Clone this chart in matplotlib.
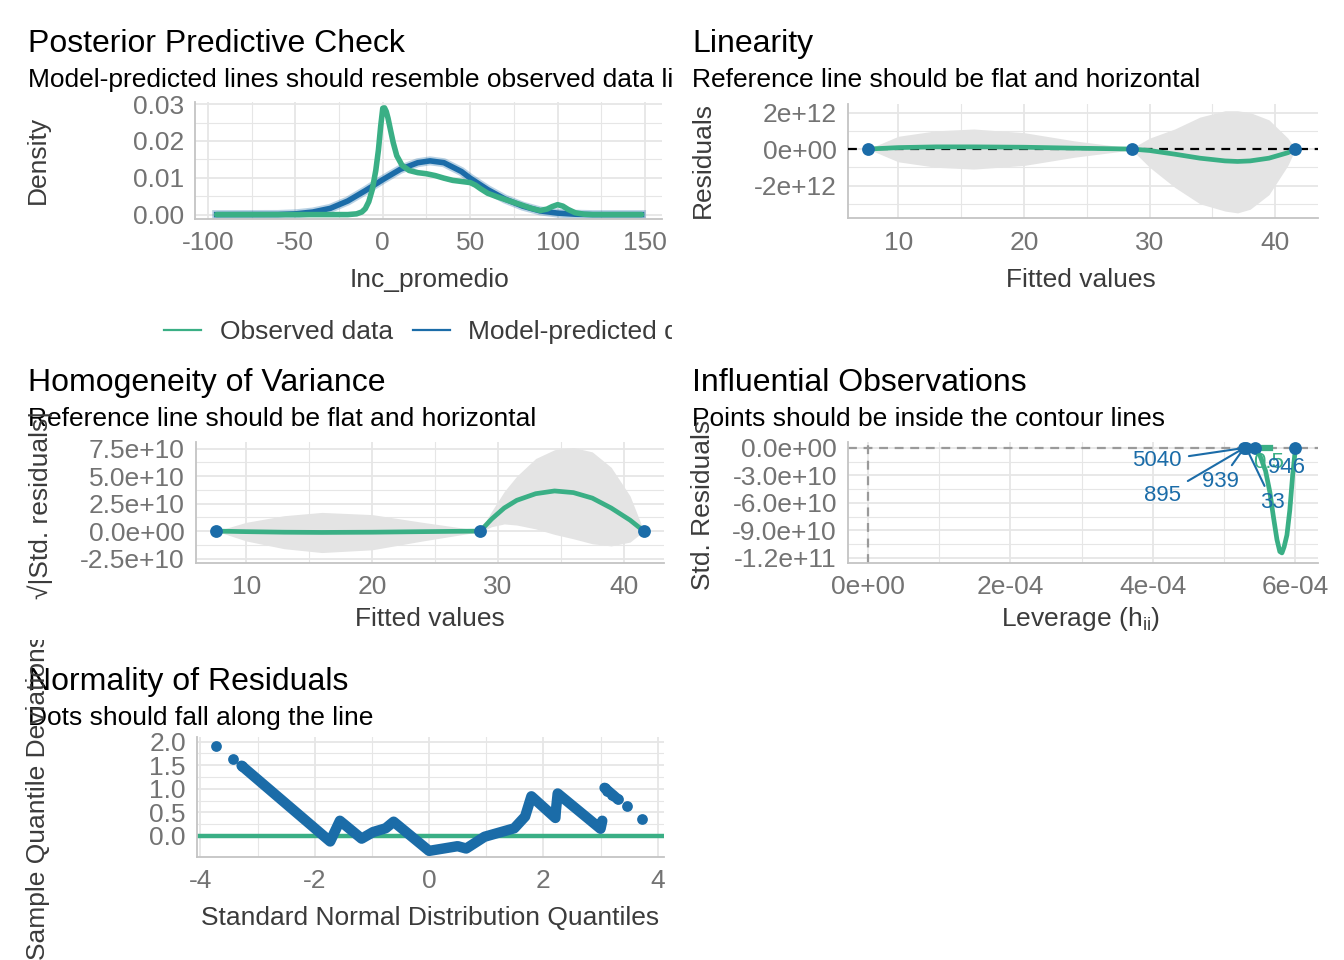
import matplotlib
matplotlib.use("Agg")
import matplotlib.pyplot as plt
from matplotlib.lines import Line2D
from matplotlib.transforms import Bbox, TransformedBbox

plt.rcParams['font.family'] = ['Liberation Sans', 'DejaVu Sans']
plt.rcParams['mathtext.fontset'] = 'custom'
plt.rcParams['mathtext.rm'] = 'Liberation Sans'
plt.rcParams['mathtext.it'] = 'Liberation Sans:italic'

W, H = 1344, 960
GREEN = '#3aaf85'
BLUE = '#1b6ca8'
TICK_C = '#737373'
LAB_C = '#3b3b3b'
GRID_C = '#e6e6e6'
RIB_C = '#e4e4e4'

# ---- Posterior predictive check (density)
obs_x = [-95, -40, -20, -15, -12, -10, -8, -6, -4, -2.5, -1.2, 0, 1, 2, 3, 4.5, 6, 8, 11, 15, 20, 25,
         30, 35, 40, 45, 50, 53, 56, 60, 65, 70, 75, 80, 85, 90, 94, 97, 100, 103, 106, 110, 115, 120, 148]
obs_y = [0, 0, 0, 0.0002, 0.0007, 0.0016, 0.0035, 0.0068, 0.0120, 0.0175, 0.0240, 0.0289, 0.0290, 0.0280,
         0.0262, 0.0228, 0.0195, 0.0160, 0.0134, 0.0120, 0.0114, 0.0111, 0.0106, 0.0099, 0.0093, 0.0090,
         0.0087, 0.0080, 0.0070, 0.0058, 0.0049, 0.0041, 0.0033, 0.0025, 0.0017, 0.0011, 0.0015, 0.0022,
         0.0027, 0.0023, 0.0014, 0.0005, 0.0001, 0, 0]
pred_x = [-95, -60, -50, -40, -30, -20, -10, 0, 10, 20, 27, 35, 45, 50, 60, 70, 80, 90, 100, 110, 120, 148]
pred_y = [0, 0.00003, 0.0002, 0.0007, 0.0017, 0.0037, 0.0065, 0.0095, 0.0123, 0.0141, 0.0146, 0.0141,
          0.0117, 0.0099, 0.0068, 0.0042, 0.0023, 0.0010, 0.0004, 0.0001, 0, 0]

# ---- Linearity
lin_fit = [7.6, 28.6, 41.6]
lin_res = [0, 0, 0]
lin_sx = [7.6, 10, 13, 16, 20, 24, 28.6, 30, 32, 34, 36, 37, 38, 39.5, 41, 41.6]
lin_sy = [0, 0.08e12, 0.12e12, 0.12e12, 0.10e12, 0.05e12, 0, -0.08e12, -0.28e12, -0.50e12, -0.65e12,
          -0.68e12, -0.65e12, -0.50e12, -0.20e12, 0]
lin_hi = [0, 0.7e12, 1.0e12, 1.1e12, 0.9e12, 0.45e12, 0.05e12, 0.6e12, 1.1e12, 1.75e12, 2.1e12, 2.1e12,
          2.0e12, 1.6e12, 0.6e12, 0]
lin_lo = [0, -0.7e12, -1.0e12, -1.1e12, -0.9e12, -0.45e12, -0.05e12, -1.0e12, -2.1e12, -3.0e12, -3.4e12,
          -3.5e12, -3.3e12, -2.5e12, -0.9e12, 0]

# ---- Homogeneity of variance
hom_fit = [7.6, 28.6, 41.6]
hom_res = [0, 0, 0]
hom_sx = [7.6, 10, 13, 16, 20, 24, 28.6, 29.5, 30.5, 31.5, 33, 34.5, 36, 37.5, 39, 40.5, 41.6]
hom_sy = [0, -0.05e10, -0.1e10, -0.12e10, -0.1e10, -0.05e10, 0, 1.1e10, 2.1e10, 2.8e10, 3.4e10, 3.65e10,
          3.5e10, 3.0e10, 2.1e10, 1.0e10, 0]
hom_hi = [0, 0.8e10, 1.4e10, 1.7e10, 1.5e10, 0.8e10, 0.05e10, 1.8e10, 3.6e10, 5.0e10, 6.6e10, 7.4e10,
          7.6e10, 7.2e10, 5.8e10, 3.2e10, 0]
hom_lo = [0, -0.9e10, -1.6e10, -1.95e10, -1.7e10, -0.9e10, -0.05e10, 0.4e10, 0.65e10, 0.55e10, 0.2e10,
          -0.3e10, -0.7e10, -1.15e10, -1.35e10, -1.0e10, 0]

# ---- Influential observations
inf_lev = [5.28e-4, 5.31e-4, 5.43e-4, 6.0e-4]
inf_res = [0, 0, 0, 0]
inf_flat_x = [5.28e-4, 5.64e-4]
inf_flat_y = [0, 0]
inf_sx = [5.40e-4, 5.50e-4, 5.58e-4, 5.64e-4, 5.69e-4, 5.74e-4, 5.78e-4, 5.81e-4, 5.84e-4, 5.88e-4,
          5.92e-4, 5.96e-4, 6.00e-4]
inf_sy = [0, -0.8e10, -2.5e10, -4.8e10, -7.5e10, -10.0e10, -11.3e10, -11.45e10, -10.8e10, -9.5e10,
          -6.8e10, -3.0e10, 0]
inf_labels = ['5040', '895', '939', '33', '946']
inf_lab_x = [4.06e-4, 4.14e-4, 4.94e-4, 5.68e-4, 5.88e-4]
inf_lab_y = [-1.4e10, -5.2e10, -3.7e10, -6.0e10, -2.1e10]
inf_lab_to = [5.28e-4, 5.28e-4, 5.28e-4, 5.31e-4, 6.0e-4]
cook_lab = '0.5'
cook_lab_x = 5.62e-4
cook_lab_y = -1.6e10

# ---- Normality of residuals (QQ)
qq_x = [-3.28, -1.73, -1.56, -1.18, -0.98, -0.76, -0.62, 0.0, 0.3, 0.5, 0.65, 0.97, 1.49, 1.68, 1.79,
        2.21, 2.22, 2.25, 3.0, 3.03]
qq_y = [1.49, -0.12, 0.32, -0.06, 0.08, 0.16, 0.30, -0.32, -0.26, -0.22, -0.27, -0.02, 0.16, 0.41, 0.84,
        0.38, 0.55, 0.90, 0.15, 0.32]
qq_tail_x = [3.07, 3.30]
qq_tail_y = [1.02, 0.78]
qq_pts_x = [-3.72, -3.43, -3.28, 3.07, 3.12, 3.2, 3.3, 3.46, 3.73]
qq_pts_y = [1.91, 1.63, 1.49, 1.02, 0.95, 0.86, 0.78, 0.64, 0.35]

fig = plt.figure(figsize=(W / 100, H / 100), dpi=100)


def box(l, t, r, b):
    return [l / W, 1 - b / H, (r - l) / W, (b - t) / H]


def fx(px):
    return px / W


def fy(py):
    return 1 - py / H


def style(ax, xt, xl, xm, yt, yl, ym):
    ax.set_xticks(xt, xl)
    ax.set_yticks(yt, yl)
    ax.set_xticks(xm, minor=True)
    ax.set_yticks(ym, minor=True)
    ax.grid(True, which='major', color=GRID_C, lw=1.3, zorder=0)
    ax.grid(True, which='minor', color=GRID_C, lw=0.8, zorder=0)
    ax.set_axisbelow(True)
    for s in ['top', 'right']:
        ax.spines[s].set_visible(False)
    for s in ['left', 'bottom']:
        ax.spines[s].set_color('#c4c4c4')
        ax.spines[s].set_linewidth(1.3)
    ax.tick_params(which='both', length=0, labelsize=19, labelcolor=TICK_C)
    ax.tick_params(axis='x', pad=9)
    ax.tick_params(axis='y', pad=8)


def titles(x, ty, title, sub, clip=None):
    fig.text(fx(x), fy(ty), title, fontsize=23, va='baseline', ha='left', color='black')
    t = fig.text(fx(x), fy(ty + 35), sub, fontsize=19, va='baseline', ha='left', color='black')
    if clip is not None:
        t.set_clip_box(TransformedBbox(Bbox.from_extents(0, 0, fx(clip), 1), fig.transFigure))
        t.set_clip_on(True)


# Panel 1
ax1 = fig.add_axes(box(195, 102, 662, 219))
ax1.plot(pred_x, pred_y, color=BLUE, lw=6.5, alpha=0.3, solid_joinstyle='round', zorder=2)
ax1.plot(pred_x, pred_y, color=BLUE, lw=4, solid_joinstyle='round', zorder=3)
ax1.plot(obs_x, obs_y, color=GREEN, lw=4, solid_joinstyle='round', solid_capstyle='round', zorder=4)
ax1.set_xlim(-107.4, 159.7)
ax1.set_ylim(-0.0012, 0.0306)
style(ax1, [-100, -50, 0, 50, 100, 150], ['-100', '-50', '0', '50', '100', '150'], [-75, -25, 25, 75, 125],
      [0, 0.01, 0.02, 0.03], ['0.00', '0.01', '0.02', '0.03'], [0.005, 0.015, 0.025])
titles(28, 52, 'Posterior Predictive Check', 'Model-predicted lines should resemble observed data lines',
       clip=672)
fig.text(fx(430), fy(280), 'Inc_promedio', fontsize=19, color=LAB_C, ha='center', va='center')
fig.text(fx(38), fy(160), 'Density', fontsize=19, color=LAB_C, ha='center', va='center', rotation=90)
h1 = Line2D([], [], color=GREEN, lw=1.6)
h2 = Line2D([], [], color=BLUE, lw=1.6)
leg = fig.legend([h1, h2], ['Observed data', 'Model-predicted data'], loc='center',
                 bbox_to_anchor=(fx(440), fy(332)), ncol=2, frameon=False, fontsize=19,
                 handlelength=1.4, handletextpad=0.7, columnspacing=0.75)
clipbb = TransformedBbox(Bbox.from_extents(0, 0, fx(672), 1), fig.transFigure)
for t in leg.get_texts():
    t.set_color(LAB_C)
    t.set_clip_box(clipbb)
    t.set_clip_on(True)

# Panel 2
ax2 = fig.add_axes(box(848, 104, 1318, 218))
ax2.fill_between(lin_sx, lin_lo, lin_hi, color=RIB_C, lw=0, zorder=1)
ax2.axhline(0, color='black', lw=1.6, ls=(0, (4, 3)), zorder=3)
ax2.plot(lin_sx, lin_sy, color=GREEN, lw=3.4, solid_capstyle='round', zorder=4)
ax2.scatter(lin_fit, lin_res, s=85, color=BLUE, zorder=5, lw=0)
ax2.set_xlim(6.0, 43.4)
ax2.set_ylim(-3.78e12, 2.47e12)
style(ax2, [10, 20, 30, 40], ['10', '20', '30', '40'], [15, 25, 35],
      [-2e12, 0, 2e12], ['-2e+12', '0e+00', '2e+12'], [-3e12, -1e12, 1e12])
titles(692, 52, 'Linearity', 'Reference line should be flat and horizontal')
fig.text(fx(1081), fy(280), 'Fitted values', fontsize=19, color=LAB_C, ha='center', va='center')
fig.text(fx(703), fy(160), 'Residuals', fontsize=19, color=LAB_C, ha='center', va='center', rotation=90)

# Panel 3
ax3 = fig.add_axes(box(196, 442, 664, 563))
ax3.fill_between(hom_sx, hom_lo, hom_hi, color=RIB_C, lw=0, zorder=1)
ax3.plot(hom_sx, hom_sy, color=GREEN, lw=3.4, solid_capstyle='round', zorder=4)
ax3.scatter(hom_fit, hom_res, s=85, color=BLUE, zorder=5, lw=0)
ax3.set_xlim(6.0, 43.2)
ax3.set_ylim(-2.9e10, 8.1e10)
style(ax3, [10, 20, 30, 40], ['10', '20', '30', '40'], [15, 25, 35],
      [-2.5e10, 0, 2.5e10, 5e10, 7.5e10], ['-2.5e+10', '0.0e+00', '2.5e+10', '5.0e+10', '7.5e+10'],
      [-1.25e10, 1.25e10, 3.75e10, 6.25e10])
titles(28, 391, 'Homogeneity of Variance', 'Reference line should be flat and horizontal')
fig.text(fx(430), fy(619), 'Fitted values', fontsize=19, color=LAB_C, ha='center', va='center')
fig.text(fx(40), fy(505), '\u221a|Std. residuals|', fontsize=19, color=LAB_C, ha='center', va='center',
         rotation=90)

# Panel 4
ax4 = fig.add_axes(box(848, 442, 1318, 563))
ax4.axhline(0, color='#9a9a9a', lw=1.6, ls=(0, (4, 3)), zorder=2)
ax4.axvline(0, color='#9a9a9a', lw=1.6, ls=(0, (4, 3)), zorder=2)
ax4.plot(inf_flat_x, inf_flat_y, color=GREEN, lw=4.5, zorder=3)
ax4.plot(inf_sx, inf_sy, color=GREEN, lw=3.4, solid_capstyle='round', zorder=4)
ax4.scatter(inf_lev, inf_res, s=85, color=BLUE, zorder=5, lw=0)
ax4.text(cook_lab_x, cook_lab_y, cook_lab, fontsize=16, color=GREEN, ha='center', va='center', zorder=5)
for lab, lx, ly, tx in zip(inf_labels, inf_lab_x, inf_lab_y, inf_lab_to):
    ax4.annotate(lab, xy=(tx, 0), xytext=(lx, ly), textcoords='data', fontsize=16, color=BLUE,
                 ha='center', va='center', zorder=6,
                 arrowprops=dict(arrowstyle='-', color=BLUE, lw=1.5, shrinkA=3, shrinkB=2))
ax4.set_xlim(-2.8e-5, 6.316e-4)
ax4.set_ylim(-1.255e11, 0.65e10)
style(ax4, [0, 2e-4, 4e-4, 6e-4], ['0e+00', '2e-04', '4e-04', '6e-04'], [1e-4, 3e-4, 5e-4],
      [-1.2e11, -9e10, -6e10, -3e10, 0], ['-1.2e+11', '-9.0e+10', '-6.0e+10', '-3.0e+10', '0.0e+00'],
      [-1.05e11, -7.5e10, -4.5e10, -1.5e10])
titles(692, 391, 'Influential Observations', 'Points should be inside the contour lines')
fig.text(fx(1081), fy(619), r'Leverage (h$_{\mathrm{ii}}$)', fontsize=19, color=LAB_C, ha='center',
         va='center')
fig.text(fx(703), fy(505), 'Std. Residuals', fontsize=19, color=LAB_C, ha='center', va='center',
         rotation=90)

# Panel 5
ax5 = fig.add_axes(box(197, 737, 664, 857))
ax5.axhline(0, color=GREEN, lw=3.2, zorder=2)
ax5.plot(qq_x, qq_y, color=BLUE, lw=7.5, solid_joinstyle='round', solid_capstyle='round', zorder=3)
ax5.plot(qq_tail_x, qq_tail_y, color=BLUE, lw=7.5, solid_capstyle='round', zorder=3)
ax5.scatter(qq_pts_x, qq_pts_y, s=60, color=BLUE, zorder=4, lw=0)
ax5.set_xlim(-4.06, 4.11)
ax5.set_ylim(-0.45, 2.1)
style(ax5, [-4, -2, 0, 2, 4], ['-4', '-2', '0', '2', '4'], [-3, -1, 1, 3],
      [0, 0.5, 1.0, 1.5, 2.0], ['0.0', '0.5', '1.0', '1.5', '2.0'], [0.25, 0.75, 1.25, 1.75])
titles(28, 690, 'Normality of Residuals', 'Dots should fall along the line')
fig.text(fx(430), fy(918), 'Standard Normal Distribution Quantiles', fontsize=19, color=LAB_C,
         ha='center', va='center')
t = fig.text(fx(38), fy(797), 'Sample Quantile Deviations', fontsize=19, color=LAB_C, ha='center',
             va='center', rotation=90)
t.set_clip_box(TransformedBbox(Bbox.from_extents(0, 0, 1, fy(640)), fig.transFigure))
t.set_clip_on(True)

fig.savefig('out.png', dpi=100, facecolor='white')
